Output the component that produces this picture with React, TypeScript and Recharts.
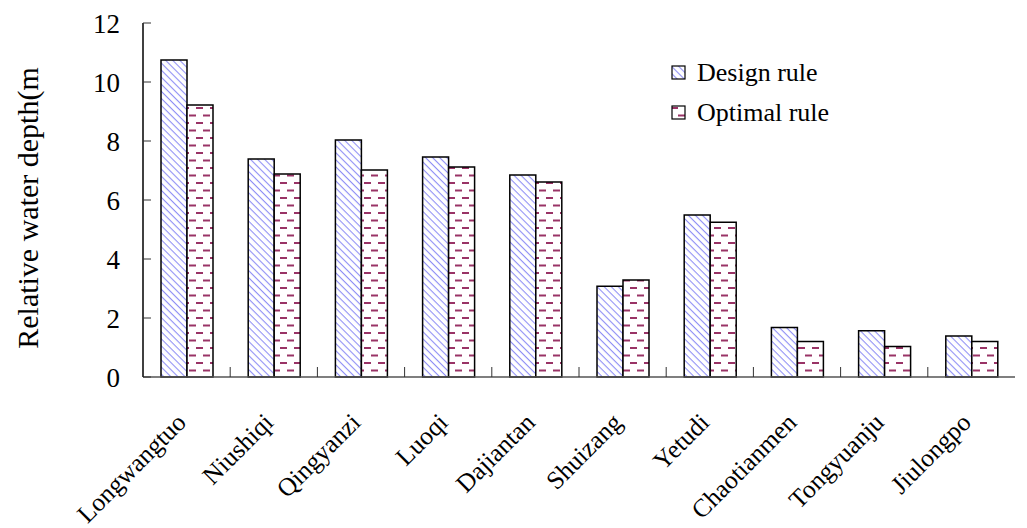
import React from 'react';
import { BarChart, Bar, XAxis, YAxis } from 'recharts';

const categories = ['Longwangtuo', 'Niushiqi', 'Qingyanzi', 'Luoqi', 'Dajiantan', 'Shuizang', 'Yetudi', 'Chaotianmen', 'Tongyuanju', 'Jiulongpo'];
const designRule = [10.75, 7.39, 8.03, 7.46, 6.85, 3.08, 5.49, 1.68, 1.57, 1.39];
const optimalRule = [9.22, 6.88, 7.02, 7.12, 6.61, 3.29, 5.25, 1.2, 1.03, 1.2];
const yTicks = [0, 2, 4, 6, 8, 10, 12];
const legendItems = [
  { label: 'Design rule', fill: 'url(#designPat)' },
  { label: 'Optimal rule', fill: 'url(#optimalPat)' },
];

const data = categories.map((name, i) => ({ name, design: designRule[i], optimal: optimalRule[i] }));

const FONT = '"Liberation Serif", "Times New Roman", serif';

const XTick = (props: any) => {
  const { x, y, payload, index, width, visibleTicksCount } = props;
  const half =
    payload && typeof payload.offset === 'number' && payload.offset > 0
      ? payload.offset
      : width / (visibleTicksCount || categories.length) / 2;
  const bx = x - half;
  return (
    <g>
      {index > 0 && <line x1={bx} y1={y} x2={bx} y2={y - 10} stroke="#333" strokeWidth={1} />}
      <g transform={`translate(${x + 1},${y + 47})`}>
        <text transform="rotate(-45)" textAnchor="end" fontFamily={FONT} fontSize={25.5} fill="#000">
          {payload.value}
        </text>
      </g>
    </g>
  );
};

const Swatch = ({ fill }: { fill: string }) => (
  <svg width={16} height={16} style={{ display: 'block' }}>
    <rect x={1} y={1} width={13} height={13} fill={fill} stroke="#000" strokeWidth={1.2} />
  </svg>
);

export default function App() {
  return (
    <div style={{ position: 'absolute', left: 0, top: 0, width: 1027, height: 528, background: '#fff' }}>
      <BarChart
        width={1027}
        height={528}
        data={data}
        margin={{ top: 23, right: 12, bottom: 150, left: 0 }}
        barCategoryGap={18}
        barGap={0}
      >
        <defs>
          <pattern id="designPat" patternUnits="userSpaceOnUse" width={5} height={5} patternTransform="rotate(45)">
            <rect x={0} y={0} width={5} height={5} fill="#fff" />
            <line x1={0} y1={0} x2={5} y2={0} stroke="#8f8ff5" strokeWidth={2.2} />
          </pattern>
          <pattern id="optimalPat" patternUnits="userSpaceOnUse" width={14} height={15}>
            <rect x={0} y={0} width={14} height={15} fill="#fff" />
            <rect x={0} y={2} width={7} height={2} fill="#993366" />
            <rect x={7} y={9.5} width={7} height={2} fill="#993366" />
          </pattern>
        </defs>
        <XAxis
          dataKey="name"
          height={1}
          tickLine={false}
          tickSize={0}
          tickMargin={0}
          axisLine={{ stroke: '#555', strokeWidth: 1.5 }}
          tick={<XTick />}
          interval={0}
        />
        <YAxis
          width={143}
          domain={[0, 12]}
          ticks={yTicks}
          interval={0}
          axisLine={{ stroke: '#000', strokeWidth: 1.5 }}
          tickLine={{ stroke: '#333', strokeWidth: 1 }}
          tickSize={-8}
          tickMargin={31}
          tick={{ fontFamily: FONT, fontSize: 27, fill: '#000' }}
          label={{
            content: () => (
              <text
                x={27}
                y={208}
                transform="rotate(-90, 27, 208)"
                textAnchor="middle"
                dominantBaseline="central"
                fontFamily={FONT}
                fontSize={30}
                fill="#000"
              >
                Relative water depth(m
              </text>
            ),
          }}
        />
        <Bar dataKey="design" name="Design rule" fill="url(#designPat)" stroke="#000" strokeWidth={1.5} isAnimationActive={false} />
        <Bar dataKey="optimal" name="Optimal rule" fill="url(#optimalPat)" stroke="#000" strokeWidth={1.5} isAnimationActive={false} />
      </BarChart>
      <div style={{ position: 'absolute', left: 671, top: 53, fontFamily: FONT, fontSize: 26, color: '#000' }}>
        {legendItems.map((it) => (
          <div key={it.label} style={{ display: 'flex', alignItems: 'center', height: 40 }}>
            <Swatch fill={it.fill} />
            <span style={{ marginLeft: 10 }}>{it.label}</span>
          </div>
        ))}
      </div>
    </div>
  );
}
